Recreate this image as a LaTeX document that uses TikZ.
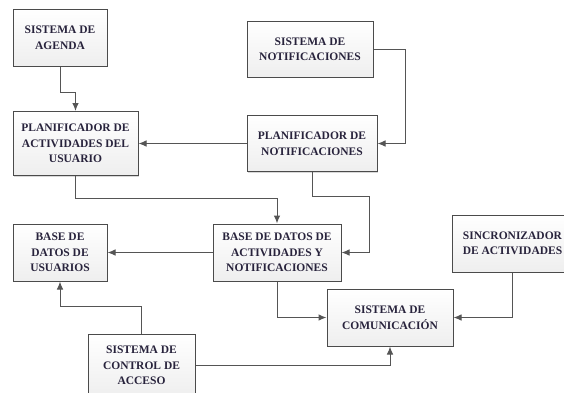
\documentclass[tikz,border=0pt]{standalone}
\usepackage{fontspec}
\setmainfont{Liberation Serif}
\usetikzlibrary{arrows.meta,shadows}
\definecolor{boxtext}{RGB}{40,35,60}
\definecolor{boxline}{RGB}{75,75,75}
\definecolor{arrline}{RGB}{85,85,85}
\tikzset{
  modulo/.style={draw=boxline, line width=1pt, top color=white, bottom color=gray!13,
    drop shadow={shadow xshift=1.2pt, shadow yshift=-1.2pt, opacity=0.3},
    align=center, text=boxtext, inner sep=2pt,
    font=\bfseries\fontsize{11.5}{15.5}\selectfont},
  flecha/.style={draw=arrline, line width=1pt, -{Latex[length=8pt,width=6.5pt]}}
}
\begin{document}
\begin{tikzpicture}[x=1pt,y=-1pt]
      \useasboundingbox[fill=white] (0,0) rectangle (564,392);
      \node[modulo, minimum width=94, minimum height=57] (agenda) at (60,37.5)
        {SISTEMA DE\\AGENDA};
      \node[modulo, minimum width=126, minimum height=56] (snotif) at (310,49)
        {SISTEMA DE\\NOTIFICACIONES};
      \node[modulo, minimum width=125, minimum height=64] (planact) at (75.5,143.5)
        {PLANIFICADOR DE\\ACTIVIDADES DEL\\USUARIO};
      \node[modulo, minimum width=130, minimum height=56] (plannotif) at (312,143.5)
        {PLANIFICADOR DE\\NOTIFICACIONES};
      \node[modulo, minimum width=94, minimum height=57] (bdusu) at (60,252.5)
        {BASE DE\\DATOS DE\\USUARIOS};
      \node[modulo, minimum width=128, minimum height=57] (bdact) at (277,252.5)
        {BASE DE DATOS DE\\ACTIVIDADES Y\\NOTIFICACIONES};
      \node[modulo, minimum width=121, minimum height=57] (sincro) at (512.5,243.5)
        {SINCRONIZADOR\\DE ACTIVIDADES};
      \node[modulo, minimum width=126, minimum height=57] (comunic) at (390,317.5)
        {SISTEMA DE\\COMUNICACIÓN};
      \node[modulo, minimum width=107, minimum height=62] (control) at (141.5,365.5)
        {SISTEMA DE\\CONTROL DE\\ACCESO};
      % conexiones
      \draw[flecha] (agenda.south) -- ++(0,26) -| (planact.north);
      \draw[flecha] (snotif.east) -- ++(32,0) |- (plannotif.east);
      \draw[flecha] (plannotif.west) -- (planact.east);
      \draw[flecha] (planact.south) -- ++(0,22) -| (bdact.north);
      \draw[flecha] (plannotif.south) -- ++(0,24) -- ++(57,0) |- (bdact.east);
      \draw[flecha] (bdact.west) -- (bdusu.east);
      \draw[flecha] (control.north) -- ++(0,-28) -| (bdusu.south);
      \draw[flecha] (bdact.south) |- (comunic.west);
      \draw[flecha] (sincro.south) |- (comunic.east);
      \draw[flecha] (control.east) -| (comunic.south);
    \end{tikzpicture}
\end{document}
